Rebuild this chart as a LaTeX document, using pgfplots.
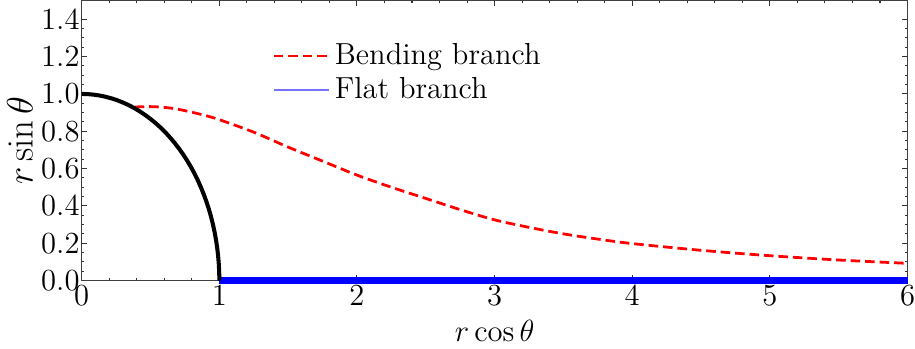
\documentclass[border=0pt]{standalone}
\usepackage{pgfplots}
\pgfplotsset{compat=1.18}
\begin{document}
\begin{tikzpicture}
\begin{axis}[
  scale only axis,
  width=388pt, height=131.5pt,
  xmin=0, xmax=6, ymin=0, ymax=1.5,
  xtick={0,1,2,3,4,5,6},
  ytick={0,0.2,0.4,0.6,0.8,1.0,1.2,1.4},
  tick label style={font=\fontsize{13.5}{15}\selectfont, inner xsep=0pt},
  yticklabel style={/pgf/number format/fixed, /pgf/number format/fixed zerofill, /pgf/number format/precision=1, xshift=-0.8pt},
  minor x tick num=4,
  minor y tick num=3,
  tick align=inside,
  major tick length=2.5pt,
  minor tick length=1.3pt,
  axis line style={black!75, line width=0.6pt},
  every tick/.style={black!80, line width=0.5pt},
  xticklabel style={yshift=1pt},
  xlabel={$r\cos\theta$},
  ylabel={$r\sin\theta$},
  label style={font=\fontsize{15.5}{18}\selectfont},
  xlabel style={yshift=0pt},
  ylabel style={yshift=0.5pt, font=\fontsize{16.5}{19}\selectfont},
  clip=false,
  legend cell align=left,
  legend style={draw=none, fill=none, at={(0.228,0.87)}, anchor=north west,
    font=\fontsize{14.3}{17}\selectfont, row sep=0.5pt, inner sep=1pt},
  legend image code/.code={\draw[#1] (0pt,0pt) -- (26pt,0pt);},
]
\addlegendimage{red, line width=1.3pt, dash pattern=on 4.5pt off 2.3pt}
\addlegendentry{Bending branch}
\addlegendimage{blue!55, line width=1pt}
\addlegendentry{Flat branch}

\addplot[red, line width=1.3pt, dash pattern=on 4.5pt off 2.3pt, smooth, forget plot] coordinates {
(0.385,0.930) (0.5,0.932) (0.6,0.928) (0.7,0.918) (0.8,0.902) (0.9,0.884)
(1.0,0.862) (1.25,0.795) (1.5,0.715) (1.75,0.640) (2.0,0.565) (2.25,0.500)
(2.5,0.440) (2.75,0.380) (3.0,0.325) (3.25,0.285) (3.5,0.250) (3.75,0.222)
(4.0,0.198) (4.5,0.162) (5.0,0.133) (5.5,0.110) (6.0,0.092)
};

\addplot[blue, line width=3pt, forget plot] coordinates {(1,0) (6,0)};

\addplot[black, line width=1.9pt, forget plot] coordinates {
(1,0) (0.9998,0.0218) (0.9990,0.0436) (0.9977,0.0654) (0.9962,0.0872) (0.9914,0.1305) (0.9848,0.1736)
(0.9763,0.2164) (0.9659,0.2588) (0.9537,0.3007) (0.9397,0.3420) (0.9239,0.3827) (0.9063,0.4226)
(0.8870,0.4617) (0.8660,0.5000) (0.8434,0.5373) (0.8192,0.5736) (0.7934,0.6088) (0.7660,0.6428)
(0.7373,0.6756) (0.7071,0.7071) (0.6756,0.7373) (0.6428,0.7660) (0.6088,0.7934) (0.5736,0.8192)
(0.5373,0.8434) (0.5000,0.8660) (0.4617,0.8870) (0.4226,0.9063) (0.3827,0.9239) (0.3420,0.9397)
(0.3007,0.9537) (0.2588,0.9659) (0.2164,0.9763) (0.1736,0.9848) (0.1305,0.9914) (0.0872,0.9962)
(0.0436,0.9990) (0,1)
};
\end{axis}
\end{tikzpicture}
\end{document}
